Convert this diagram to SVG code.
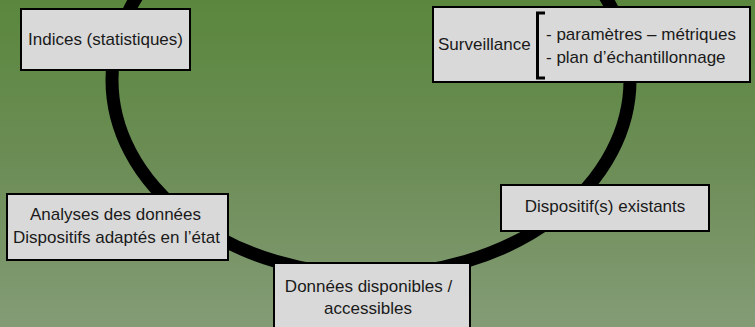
<svg xmlns="http://www.w3.org/2000/svg" width="755" height="327" viewBox="0 0 755 327">
  <defs>
    <linearGradient id="bg" x1="0" y1="0" x2="0" y2="1">
      <stop offset="0" stop-color="#5a873d"/>
      <stop offset="0.5" stop-color="#6c8d56"/>
      <stop offset="1" stop-color="#849c76"/>
    </linearGradient>
    <style>
      .box { fill: #d9d9d9; stroke: #000000; stroke-width: 2; }
      .lbl { font-family: "Liberation Sans", Arial, sans-serif; font-size: 17px; fill: #1a1a1a; }
      .mid { text-anchor: middle; }
      .cycle { fill: none; stroke: #000000; stroke-width: 13; }
    </style>
  </defs>
  <rect x="0" y="0" width="755" height="327" fill="url(#bg)"/>

  <g id="connectors">
    <ellipse class="cycle" cx="371" cy="80" rx="259" ry="195"/>
  </g>

  <g id="node-indices">
    <rect class="box" x="21" y="9" width="169" height="61"/>
    <text class="lbl mid" x="105.5" y="45">Indices (statistiques)</text>
  </g>

  <g id="node-surveillance">
    <rect class="box" x="433" y="7" width="317" height="75"/>
    <text class="lbl" x="438" y="50">Surveillance</text>
    <path d="M545,13 H537.5 V78 H545" fill="none" stroke="#000000" stroke-width="3"/>
    <text class="lbl" x="546" y="40">- paramètres – métriques</text>
    <text class="lbl" x="546" y="63">- plan d’échantillonnage</text>
  </g>

  <g id="node-analyses">
    <rect class="box" x="7" y="194" width="221" height="66"/>
    <text class="lbl mid" x="115.5" y="220">Analyses des données</text>
    <text class="lbl mid" x="116.5" y="243">Dispositifs adaptés en l’état</text>
  </g>

  <g id="node-dispositifs">
    <rect class="box" x="501" y="185" width="208" height="46"/>
    <text class="lbl mid" x="605" y="212">Dispositif(s) existants</text>
  </g>

  <g id="node-donnees">
    <rect class="box" x="274" y="263" width="196" height="70"/>
    <text class="lbl mid" x="368.5" y="292">Données disponibles /</text>
    <text class="lbl mid" x="368" y="314">accessibles</text>
  </g>
</svg>
